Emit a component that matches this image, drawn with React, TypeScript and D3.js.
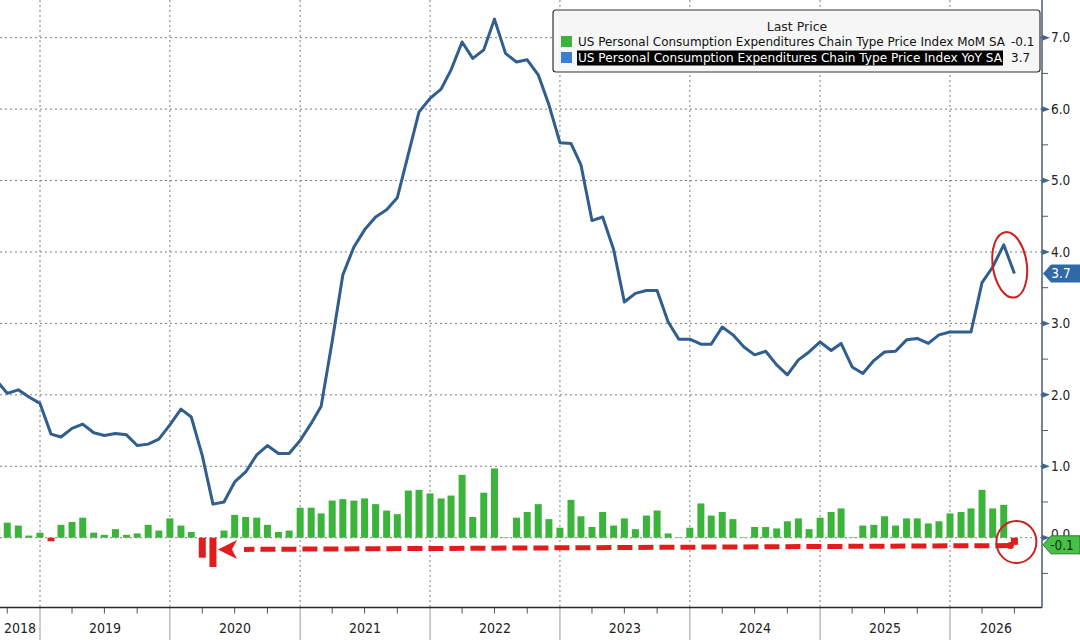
import { useMemo } from 'react'
import * as d3 from 'd3'

// Monthly observations, first one is Sep 2018 (clipped at the left edge)
const startMonth = new Date(2018, 8, 1)

const yoyValues = [
  2.2, 2.02, 2.07, 1.97,
  1.88, 1.45, 1.41, 1.53, 1.59, 1.47, 1.43, 1.46, 1.44, 1.29, 1.31, 1.38,
  1.58, 1.8, 1.69, 1.15, 0.47, 0.5, 0.78, 0.92, 1.16, 1.29, 1.18, 1.18,
  1.36, 1.6, 1.84, 2.75, 3.68, 4.07, 4.31, 4.49, 4.59, 4.76, 5.37, 5.96,
  6.15, 6.28, 6.55, 6.94, 6.71, 6.83, 7.26, 6.78, 6.66, 6.69, 6.48, 6.06,
  5.53, 5.52, 5.22, 4.44, 4.49, 4.03, 3.3, 3.42, 3.46, 3.46, 3.02, 2.78,
  2.78, 2.71, 2.71, 2.95, 2.84, 2.67, 2.56, 2.61, 2.42, 2.28, 2.49, 2.6,
  2.74, 2.62, 2.72, 2.39, 2.3, 2.48, 2.6, 2.61, 2.77, 2.79, 2.72, 2.84,
  2.88, 2.88, 2.88, 3.57, 3.79, 4.1, 3.7
]

const momValues = [
  0.15, 0.21, 0.17, 0.03,
  0.07, -0.05, 0.18, 0.22, 0.28, 0.07, 0.04, 0.12, 0.04, 0.06, 0.18, 0.1,
  0.27, 0.17, 0.08, -0.28, -0.41, 0.1, 0.32, 0.29, 0.28, 0.18, 0.08, 0.1,
  0.42, 0.42, 0.34, 0.52, 0.54, 0.52, 0.55, 0.47, 0.38, 0.33, 0.66, 0.67,
  0.62, 0.55, 0.59, 0.88, 0.29, 0.63, 0.97, 0.01, 0.28, 0.36, 0.47, 0.26,
  0.14, 0.53, 0.3, 0.15, 0.36, 0.17, 0.27, 0.12, 0.31, 0.38, 0.06, 0.01,
  0.14, 0.48, 0.31, 0.36, 0.26, 0.01, 0.15, 0.15, 0.13, 0.23, 0.27, 0.12,
  0.28, 0.36, 0.41, 0.01, 0.17, 0.18, 0.3, 0.17, 0.27, 0.27, 0.2, 0.23,
  0.34, 0.36, 0.41, 0.67, 0.41, 0.46, -0.1
]

const yTicks = [0, 1, 2, 3, 4, 5, 6, 7]
const yMinorTicks = [-0.5, 0.5, 1.5, 2.5, 3.5, 4.5, 5.5, 6.5]
const legendTitle = 'Last Price'
const seriesNames = [
  'US Personal Consumption Expenditures Chain Type Price Index MoM SA',
  'US Personal Consumption Expenditures Chain Type Price Index YoY SA'
]
const lastMoM = -0.1
const lastYoY = 3.7

const W = 1080
const H = 640
const plotRight = 1042
const plotBottom = 607.5

const GREEN = '#3cb43c'
const RED = '#e21c1c'
const LINE = '#2f5e8f'
const narrow = '"Liberation Sans Narrow", "Arial Narrow", "DejaVu Sans Condensed", "Liberation Sans", sans-serif'

export default function App() {
  const dates = useMemo(
    () => d3.timeMonth.range(startMonth, d3.timeMonth.offset(startMonth, yoyValues.length)),
    []
  )

  const x = d3.scaleTime()
    .domain([new Date(2019, 0, 1), new Date(2026, 0, 1)])
    .range([40, 950])
  const y = d3.scaleLinear().domain([0, 7]).range([537.7, 37.7])

  const linePath = d3.line<number>()
    .x((_, i) => x(dates[i]))
    .y(d => y(d))(yoyValues) || ''

  const yearStarts = d3.timeYear.range(new Date(2019, 0, 1), new Date(2026, 0, 2))
  const leftDate = x.invert(0)
  const rightDate = x.invert(plotRight)
  const quarterTicks = d3.timeMonth.every(3)!.range(leftDate, rightDate)
    .filter(d => d.getMonth() !== 0)
  const yearLabels = d3.range(2018, 2027).map(yr => {
    const a = Math.max(0, x(new Date(yr, 0, 1)))
    const b = Math.min(plotRight, x(new Date(yr + 1, 0, 1)))
    return { label: String(yr), cx: (a + b) / 2 }
  })

  const barW = 7
  const last = dates.length - 1
  const covidIdx = momValues.indexOf(d3.min(momValues)!)

  // annotation geometry from the scales
  const arrowTipX = x(dates[covidIdx]) + 5
  const arrowY = y(-0.15)
  const dotX = x(dates[last]) - 4
  const dotY = y(-0.11)

  const tag = (cy: number) =>
    `M${plotRight + 1},${cy} L${plotRight + 9},${cy - 9} L${W},${cy - 9} L${W},${cy + 9} L${plotRight + 9},${cy + 9} Z`

  return (
    <div style={{ position: 'absolute', left: 0, top: 0, width: W, height: H, background: '#fff' }}>
      <svg width={W} height={H} viewBox={`0 0 ${W} ${H}`} style={{ display: 'block' }}>
        <defs>
          <clipPath id="plot">
            <rect x={0} y={0} width={plotRight} height={plotBottom} />
          </clipPath>
        </defs>
        <rect x={0} y={0} width={W} height={H} fill="#ffffff" />

        {/* grid */}
        <g stroke="#7d7d7d" strokeWidth={1} strokeDasharray="2,3">
          {yTicks.map(t => (
            <line key={'h' + t} x1={0} x2={plotRight} y1={y(t)} y2={y(t)} />
          ))}
          {yearStarts.map(d => (
            <line key={'v' + d.getFullYear()} x1={x(d)} x2={x(d)} y1={0} y2={plotBottom} />
          ))}
        </g>

        {/* MoM bars */}
        <g clipPath="url(#plot)">
          {momValues.map((v, i) => (
            <rect
              key={'b' + i}
              x={x(dates[i]) - barW / 2}
              y={v >= 0 ? y(v) : y(0)}
              width={barW}
              height={Math.max(0.8, Math.abs(y(v) - y(0)))}
              fill={v >= 0 ? (v < 0.02 ? '#8fbf8f' : GREEN) : RED}
            />
          ))}
          {/* YoY line */}
          <path d={linePath} fill="none" stroke={LINE} strokeWidth={3} strokeLinejoin="round" />
        </g>

        {/* red annotation */}
        <g>
          <line
            x1={dotX} y1={dotY} x2={arrowTipX + 26} y2={arrowY + 1}
            stroke={RED} strokeWidth={5} strokeDasharray="15,6"
          />
          <path
            d={`M${arrowTipX},${arrowY + 1} L${arrowTipX + 19},${arrowY - 8.5} L${arrowTipX + 14},${arrowY + 1} L${arrowTipX + 19},${arrowY + 10.5} Z`}
            fill={RED}
          />
          <circle cx={dotX} cy={dotY} r={3.5} fill={RED} />
          <ellipse
            cx={x(dates[last - 1]) + 6} cy={y(3.82)} rx={17} ry={33}
            fill="none" stroke="#cc1f1f" strokeWidth={2}
            transform={`rotate(-8 ${x(dates[last - 1]) + 6} ${y(3.82)})`}
          />
          <ellipse
            cx={x(dates[last]) + 2} cy={y(-0.06)} rx={20} ry={21}
            fill="none" stroke="#cc1f1f" strokeWidth={2}
          />
        </g>

        {/* right axis */}
        <line x1={plotRight} x2={plotRight} y1={0} y2={plotBottom} stroke="#4a5b72" strokeWidth={1.5} />
        {yMinorTicks.map(t => (
          <line key={'m' + t} x1={plotRight} x2={plotRight + 6} y1={y(t)} y2={y(t)} stroke="#4a5b72" strokeWidth={1} />
        ))}
        {yTicks.map(t => (
          <g key={'t' + t}>
            <path d={`M${plotRight},${y(t) - 3} L${plotRight + 8},${y(t)} L${plotRight},${y(t) + 3} Z`} fill="#3f6690" />
            <text
              x={plotRight + 9} y={t === 0 ? y(t) - 3 : y(t)} dy="0.35em"
              fontFamily={narrow} fontSize={13.5} fill="#222"
            >
              {t.toFixed(1)}
            </text>
          </g>
        ))}
        <path d={tag(y(lastYoY))} fill="#2f6aa8" />
        <text x={1061} y={y(lastYoY)} dy="0.36em" textAnchor="middle" fontFamily={narrow} fontSize={13.5} fill="#fff">
          {lastYoY.toFixed(1)}
        </text>
        <path d={tag(y(lastMoM))} fill="#46c046" stroke="#2b7d2b" strokeWidth={1} />
        <text x={1062} y={y(lastMoM)} dy="0.36em" textAnchor="middle" fontFamily={narrow} fontSize={13.5} fill="#15301a">
          {lastMoM.toFixed(1)}
        </text>

        {/* bottom axis */}
        {yearStarts.map(d => (
          <line key={'ys' + d.getFullYear()} x1={x(d)} x2={x(d)} y1={plotBottom} y2={H} stroke="#9a9a9a" strokeWidth={1} />
        ))}
        {quarterTicks.map(d => (
          <line key={'q' + d.getTime()} x1={x(d)} x2={x(d)} y1={plotBottom} y2={plotBottom + 6} stroke="#555" strokeWidth={1} />
        ))}
        <line x1={0} x2={plotRight} y1={plotBottom} y2={plotBottom} stroke="#2a2a2a" strokeWidth={1.6} />
        {yearLabels.map(l => (
          <text key={l.label} x={l.cx} y={632} dy="0.1em" textAnchor="middle" fontFamily={narrow} fontSize={14} fill="#222">
            {l.label}
          </text>
        ))}

        {/* legend */}
        <g>
          <rect x={553} y={10} width={487} height={62} rx={3} fill="#f6f6f6" stroke="#333" strokeWidth={1.2} />
          <text x={797} y={27} dy="0.35em" textAnchor="middle" fontFamily="DejaVu Sans, sans-serif" fontSize={12.5} fill="#222">
            {legendTitle}
          </text>
          <rect x={561} y={36} width={11} height={11} fill={GREEN} />
          <text
            x={578} y={42} dy="0.35em" fontFamily="DejaVu Sans, sans-serif" fontSize={12} fill="#111"
            textLength={427} lengthAdjust="spacingAndGlyphs"
          >
            {seriesNames[0]}
          </text>
          <text x={1011} y={42} dy="0.35em" fontFamily="DejaVu Sans, sans-serif" fontSize={12} fill="#111">
            {lastMoM.toFixed(1)}
          </text>
          <rect x={577} y={50.5} width={426} height={15} fill="#000" />
          <rect x={561} y={52} width={11} height={11} fill="#3a7fd3" />
          <text
            x={578} y={58} dy="0.35em" fontFamily="DejaVu Sans, sans-serif" fontSize={12} fill="#fff"
            textLength={424} lengthAdjust="spacingAndGlyphs"
          >
            {seriesNames[1]}
          </text>
          <text x={1011} y={58} dy="0.35em" fontFamily="DejaVu Sans, sans-serif" fontSize={12} fill="#111">
            {lastYoY.toFixed(1)}
          </text>
        </g>
      </svg>
    </div>
  )
}
